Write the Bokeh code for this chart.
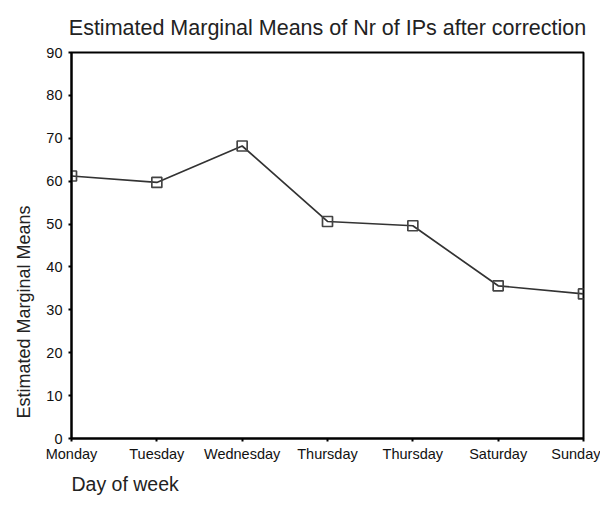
from bokeh.plotting import figure
from bokeh.models import FixedTicker, ColumnDataSource, Title
from bokeh.embed import file_html
from bokeh.resources import INLINE

days = ["Monday", "Tuesday", "Wednesday", "Thursday", "Thursday", "Saturday", "Sunday"]
means = [61.2, 59.7, 68.2, 50.6, 49.6, 35.6, 33.7]
y_ticks = [0, 10, 20, 30, 40, 50, 60, 70, 80, 90]

xs = list(range(len(days)))
src = ColumnDataSource(dict(x=xs, y=means))

FONT = "Liberation Sans"
W, H = 600, 500

p = figure(width=W, height=H, output_backend="svg", toolbar_location=None,
           x_range=(0, len(days) - 1), y_range=(0, 90),
           min_border_left=71, min_border_right=17, min_border_top=51, min_border_bottom=62,
           title="Estimated Marginal Means of Nr of IPs after correction")
p.title.align = "center"
p.title.text_font = FONT
p.title.text_font_size = "21.5px"
p.title.text_font_style = "normal"
p.title.text_color = "#222222"
p.title.standoff = 26

p.grid.visible = False
p.outline_line_color = "black"
p.outline_line_width = 2
p.outline_line_alpha = 1

p.line("x", "y", source=src, line_color="#333333", line_width=1.7)
p.scatter("x", "y", source=src, marker="square", size=10, fill_color=None,
          line_color="#444444", line_width=1.7)

p.xaxis.ticker = FixedTicker(ticks=xs)
p.xaxis.major_label_overrides = {i: d for i, d in enumerate(days)}
p.yaxis.ticker = FixedTicker(ticks=y_ticks)
for ax in (p.xaxis, p.yaxis):
    ax.axis_line_color = "black"
    ax.axis_line_width = 2
    ax.major_tick_line_color = "black"
    ax.major_tick_line_width = 2
    ax.major_tick_in = 0
    ax.major_tick_out = 3
    ax.minor_tick_line_color = None
    ax.major_label_text_font = FONT
    ax.major_label_text_color = "#111111"
p.xaxis.major_label_text_font_size = "14.5px"
p.yaxis.major_label_text_font_size = "14.5px"
p.yaxis.major_label_standoff = 6
p.xaxis.major_label_standoff = 4

ylab = Title(text="Estimated Marginal Means", align="left", offset=20, standoff=20,
             text_font=FONT, text_font_size="18px", text_font_style="normal",
             text_color="#222222")
p.add_layout(ylab, "left")
xlab = Title(text="Day of week", align="left", offset=0, standoff=12,
             text_font=FONT, text_font_size="19.5px", text_font_style="normal",
             text_color="#222222")
p.add_layout(xlab, "below")

open("out.html", "w").write(file_html(p, INLINE))
